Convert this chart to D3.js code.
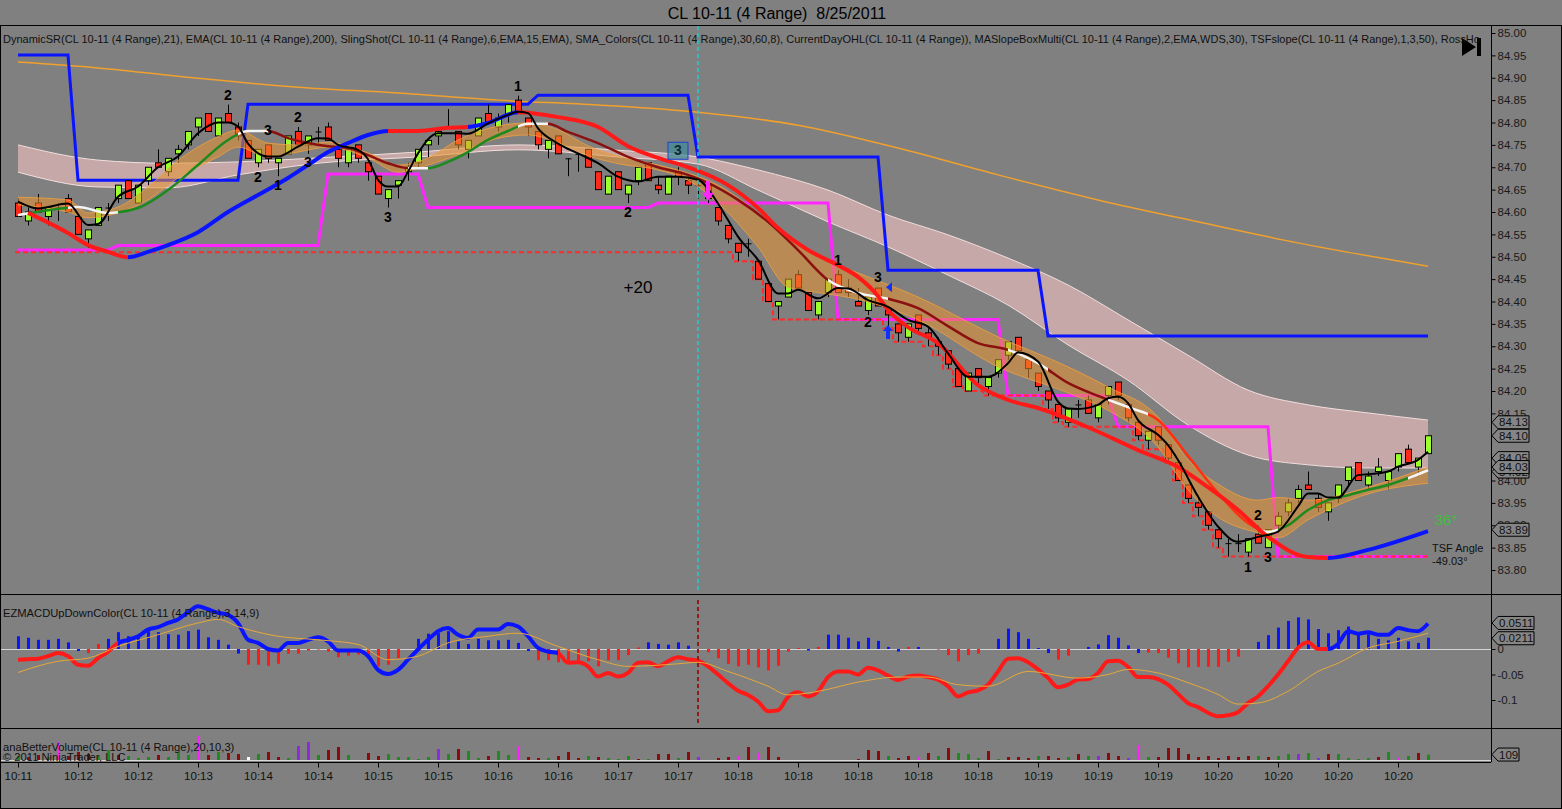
<!DOCTYPE html>
<html>
<head>
<meta charset="utf-8">
<script src="https://d3js.org/d3.v7.min.js"></script>
<style>
html, body { margin: 0; padding: 0; background: #808080; }
svg { display: block; font-family: "Liberation Sans", Arial, sans-serif; }
</style>
</head>
<body>
<div id="chart"></div>
<script>
// ---- data ----
var RANGE = 0.04;          // 4 tick range bars
var priorDayLow = 84.51;

var timeLabels = ["10:11","10:12","10:12","10:13","10:14","10:14","10:15","10:15","10:16","10:16","10:17","10:17",
                  "10:18","10:18","10:18","10:18","10:18","10:19","10:19","10:19","10:20","10:20","10:20","10:20"];
var barsPerLabel = 6;

var priceTicks = [83.80,83.85,83.90,83.95,84.00,84.05,84.10,84.15,84.20,84.25,84.30,84.35,84.40,84.45,84.50,
                  84.55,84.60,84.65,84.70,84.75,84.80,84.85,84.90,84.95,85.00];
var macdTicks = [0, -0.05, -0.1];
var priceMarkers = [84.13, 84.10, 84.02, 84.05, 84.03, 83.89];
var macdMarkers = [0.0211, 0.0511];
var volumeMarker = 109;

var opens = [84.62,84.58,84.62,84.59,84.61,84.63,84.59,84.54,84.57,84.61,
  84.63,84.67,84.62,84.67,84.71,84.69,84.73,84.75,84.79,84.82,
  84.77,84.82,84.79,84.76,84.71,84.75,84.71,84.73,84.78,84.75,
  84.78,84.79,84.74,84.71,84.75,84.71,84.68,84.63,84.66,84.69,
  84.71,84.75,84.77,84.79,84.78,84.74,84.77,84.82,84.79,84.82,
  84.85,84.81,84.78,84.74,84.77,84.72,84.73,84.74,84.69,84.64,
  84.69,84.64,84.67,84.71,84.66,84.64,84.69,84.67,84.66,84.66,
  84.61,84.57,84.53,84.53,84.49,84.44,84.39,84.41,84.46,84.42,
  84.37,84.42,84.46,84.43,84.40,84.38,84.43,84.38,84.35,84.32,
  84.37,84.33,84.31,84.29,84.25,84.20,84.25,84.21,84.24,84.28,
  84.32,84.27,84.24,84.20,84.17,84.13,84.17,84.18,84.14,84.19,
  84.22,84.17,84.13,84.09,84.12,84.08,84.04,83.99,83.95,83.93,
  83.89,83.86,83.86,83.84,83.88,83.85,83.90,83.93,83.96,83.99,
  83.96,83.93,83.96,84.00,84.04,83.99,84.02,84.00,84.03,84.07,
  84.03,84.06];
var closes = [84.59,84.60,84.60,84.61,84.61,84.60,84.55,84.56,84.61,84.61,
  84.66,84.63,84.66,84.70,84.70,84.72,84.74,84.78,84.81,84.78,
  84.81,84.80,84.77,84.72,84.74,84.72,84.72,84.77,84.75,84.77,
  84.78,84.76,84.72,84.74,84.72,84.69,84.64,84.65,84.67,84.70,
  84.74,84.76,84.78,84.79,84.75,84.76,84.81,84.80,84.81,84.84,
  84.82,84.79,84.75,84.76,84.73,84.72,84.73,84.70,84.65,84.68,
  84.65,84.66,84.70,84.67,84.65,84.68,84.68,84.66,84.66,84.63,
  84.58,84.54,84.51,84.53,84.45,84.40,84.40,84.45,84.43,84.38,
  84.40,84.45,84.42,84.42,84.39,84.41,84.39,84.37,84.33,84.35,
  84.34,84.32,84.30,84.26,84.21,84.24,84.23,84.23,84.27,84.31,
  84.29,84.25,84.21,84.18,84.14,84.16,84.17,84.15,84.17,84.21,
  84.19,84.14,84.10,84.11,84.09,84.05,84.00,83.96,83.94,83.90,
  83.87,83.86,83.86,83.87,83.86,83.89,83.92,83.95,83.98,83.98,
  83.94,83.95,83.99,84.03,84.00,84.01,84.03,84.02,84.06,84.04,
  84.05,84.10];
var highs = [84.63,84.61,84.64,84.61,84.62,84.64,84.59,84.56,84.61,84.62,
  84.66,84.67,84.66,84.70,84.74,84.72,84.75,84.78,84.81,84.82,
  84.81,84.84,84.80,84.76,84.74,84.75,84.72,84.77,84.79,84.77,
  84.79,84.80,84.74,84.74,84.75,84.71,84.68,84.65,84.67,84.71,
  84.74,84.76,84.79,84.83,84.78,84.76,84.81,84.84,84.82,84.84,
  84.86,84.81,84.78,84.76,84.77,84.72,84.73,84.74,84.69,84.68,
  84.69,84.66,84.70,84.71,84.68,84.68,84.70,84.68,84.67,84.66,
  84.61,84.57,84.53,84.54,84.49,84.44,84.40,84.45,84.47,84.42,
  84.40,84.45,84.47,84.45,84.43,84.41,84.43,84.38,84.35,84.35,
  84.37,84.34,84.32,84.29,84.25,84.24,84.25,84.23,84.27,84.31,
  84.32,84.27,84.24,84.20,84.17,84.16,84.18,84.19,84.17,84.21,
  84.22,84.17,84.13,84.11,84.12,84.08,84.04,83.99,83.96,83.93,
  83.89,83.87,83.88,83.87,83.90,83.89,83.93,83.96,83.99,84.02,
  83.97,83.95,83.99,84.03,84.04,84.02,84.05,84.02,84.06,84.08,
  84.05,84.10];

// indicator lines, [bar, price]
var ema200 = [[0,84.935],[8,84.922],[18,84.899],[28,84.879],[38,84.866],[48,84.850],[58,84.839],[68,84.823],
  [78,84.794],[88,84.743],[98,84.683],[108,84.627],[118,84.578],[128,84.531],[141,84.479]];

var fastEma = [[0,84.623],[2,84.608],[5,84.619],[7,84.571],[8,84.573],[10,84.634],[12,84.657],[14,84.700],
  [16,84.724],[18,84.776],[20,84.800],[21,84.800],[22,84.791],[23,84.753],[25,84.724],[26,84.724],[28,84.746],
  [30,84.765],[31,84.764],[32,84.750],[34,84.739],[35,84.718],[36,84.672],[37,84.657],[38,84.657],[39,84.690],
  [40,84.731],[42,84.776],[44,84.776],[45,84.775],[47,84.798],[49,84.817],[50,84.824],[51,84.821],[52,84.787],
  [54,84.753],[56,84.731],[58,84.709],[60,84.679],[62,84.668],[64,84.679],[66,84.679],[68,84.672],[70,84.619],
  [71,84.582],[72,84.545],[74,84.493],[76,84.418],[77,84.418],[78,84.426],[80,84.407],[82,84.430],[83,84.429],
  [85,84.403],[87,84.388],[89,84.359],[91,84.344],[93,84.284],[95,84.232],[97,84.232],[99,84.262],[100,84.286],
  [102,84.266],[104,84.176],[105,84.161],[106,84.160],[108,84.169],[109,84.184],[110,84.187],[111,84.173],
  [112,84.135],[114,84.102],[115,84.079],[116,84.046],[118,83.964],[120,83.897],[122,83.863],[124,83.874],
  [126,83.886],[128,83.942],[129,83.971],[130,83.971],[131,83.962],[132,83.962],[134,84.012],[136,84.016],
  [137,84.020],[138,84.031],[140,84.046],[141,84.064]];

var smaColors = [[0,84.593],[3,84.604],[6,84.611],[9,84.598],[12,84.609],[15,84.649],[18,84.705],[21,84.761],
  [23,84.781],[25,84.781],[27,84.765],[29,84.754],[31,84.747],[33,84.743],[35,84.727],[37,84.709],[39,84.698],
  [41,84.698],[43,84.712],[45,84.734],[47,84.761],[49,84.781],[51,84.797],[53,84.797],[55,84.779],[58,84.754],
  [61,84.723],[64,84.700],[67,84.683],[69,84.665],[72,84.627],[75,84.578],[78,84.515],[81,84.448],[84,84.419],
  [87,84.406],[90,84.385],[93,84.345],[96,84.307],[99,84.292],[102,84.262],[105,84.218],[108,84.189],
  [111,84.164],[114,84.135],[117,84.055],[120,83.972],[123,83.905],[125,83.885],[127,83.900],[129,83.934],
  [131,83.956],[133,83.967],[135,83.979],[137,83.990],[139,84.005],[141,84.023]];
var smaColorRuns = [[0,1,"flat"],[1,5,"up"],[5,10,"flat"],[10,22,"up"],[22,25,"flat"],[25,39,"down"],[39,41,"flat"],
  [41,50,"up"],[50,53,"flat"],[53,81,"down"],[81,87,"flat"],[87,99,"down"],[99,103,"flat"],[103,109,"down"],
  [109,113,"flat"],[113,124,"steep"],[124,126,"flat"],[126,139,"up"],[139,141,"flat"]];

var support = [[1,84.598],[5,84.553],[7,84.526],[9,84.511],[11,84.499],[13,84.511],[15,84.526],[18,84.555],
  [21,84.600],[24,84.638],[27,84.676],[29,84.705],[31,84.734],[33,84.754],[35,84.772],[37,84.781],[40,84.781],
  [43,84.788],[45,84.790],[47,84.799],[50,84.823],[54,84.812],[58,84.790],[61,84.747],[64,84.721],[67,84.700],
  [71,84.660],[74,84.609],[76,84.564],[79,84.515],[82,84.481],[84,84.455],[86,84.412],[87,84.381],[89,84.343],
  [92,84.307],[96,84.213],[99,84.180],[102,84.162],[107,84.119],[112,84.068],[116,84.030],[119,83.985],
  [122,83.934],[125,83.874],[129,83.829],[131,83.827],[135,83.845],[141,83.887]];
var supportRuns = [[0,11,"dn"],[11,37,"up"],[37,45,"dn"],[45,50,"up"],[50,131,"dn"],[131,141,"up"]];

// step lines as [first bar, level]
var dynamicSR = [[0,84.951],[6,84.671],[23,84.841],[52,84.861],[68,84.723],[87,84.470],[103,84.323]];
var ohlSteps = [[0,84.515],[10,84.525],[31,84.685],[41,84.610],[64,84.620],[82,84.360],[99,84.190],[110,84.120],[126,83.830]];

var pinkBars  = [0,8,15,22,30,40,50,60,68,74,81,87,93,99,105,111,117,123,129,135,141];
var pinkUpper = [84.750,84.716,84.709,84.712,84.721,84.734,84.750,84.738,84.723,84.694,84.649,84.593,84.549,
  84.497,84.437,84.359,84.280,84.202,84.169,84.151,84.135];
var pinkLower = [84.689,84.656,84.654,84.683,84.709,84.723,84.739,84.723,84.707,84.649,84.578,84.522,84.459,
  84.392,84.303,84.224,84.124,84.057,84.035,84.028,84.028];

var orangeBars  = [0,5,7,10,13,16,20,22,25,28,31,35,38,41,44,48,51,54,57,60,64,67,70,74,77,80,84,90,98,105,109,
  114,117,120,124,126,129,135,141];
var orangeUpper = [84.633,84.627,84.598,84.611,84.656,84.715,84.768,84.783,84.754,84.750,84.756,84.732,84.705,
  84.721,84.761,84.792,84.799,84.784,84.748,84.725,84.705,84.687,84.660,84.598,84.544,84.500,84.464,84.410,
  84.321,84.254,84.209,84.142,84.046,83.992,83.956,83.962,83.956,83.985,84.030];
var orangeLower = [84.616,84.600,84.587,84.598,84.627,84.676,84.723,84.745,84.723,84.734,84.745,84.721,84.689,
  84.705,84.728,84.765,84.772,84.755,84.726,84.708,84.694,84.671,84.620,84.522,84.432,84.420,84.405,84.359,
  84.254,84.196,84.157,84.075,83.979,83.918,83.883,83.872,83.912,83.970,83.994];

var swingLabels = [[21,84.861,"2"],[24,84.678,"2"],[25,84.783,"3"],[26,84.660,"1"],[28,84.812,"2"],[29,84.711,"3"],
  [37,84.589,"3"],[50,84.881,"1"],[61,84.600,"2"],[66,84.738,"3"],[82,84.492,"1"],[86,84.455,"3"],[85,84.354,"2"],
  [124,83.923,"2"],[123,83.807,"1"],[125,83.829,"3"]];
var boxedLabel = 66;
var markerBar = 68;

// MACD panel
var macd = [-0.021,-0.020,-0.019,-0.014,-0.008,-0.014,-0.031,-0.033,-0.018,-0.005,
  0.012,0.018,0.025,0.038,0.043,0.051,0.058,0.072,0.084,0.078,
  0.071,0.067,0.051,0.018,0.012,0.000,-0.003,0.012,0.012,0.018,
  0.023,0.015,-0.003,-0.003,-0.003,-0.014,-0.041,-0.049,-0.041,-0.021,
  -0.001,0.018,0.035,0.041,0.028,0.022,0.038,0.038,0.038,0.049,
  0.044,0.025,0.002,-0.005,-0.008,-0.027,-0.026,-0.034,-0.054,-0.047,
  -0.054,-0.047,-0.027,-0.026,-0.034,-0.024,-0.016,-0.020,-0.023,-0.034,
  -0.050,-0.067,-0.082,-0.090,-0.103,-0.122,-0.120,-0.094,-0.085,-0.093,
  -0.083,-0.055,-0.044,-0.044,-0.050,-0.037,-0.042,-0.052,-0.061,-0.054,
  -0.052,-0.055,-0.060,-0.073,-0.093,-0.085,-0.081,-0.070,-0.044,-0.019,
  -0.018,-0.026,-0.040,-0.057,-0.075,-0.070,-0.060,-0.059,-0.047,-0.024,
  -0.023,-0.035,-0.055,-0.055,-0.059,-0.070,-0.088,-0.106,-0.114,-0.125,
  -0.132,-0.130,-0.124,-0.106,-0.093,-0.073,-0.050,-0.024,0.002,0.013,
  0.000,0.000,0.010,0.035,0.030,0.033,0.028,0.028,0.041,0.037,
  0.035,0.050];
var macdRuns = [[0,10,"dn"],[10,54,"up"],[54,131,"dn"],[131,141,"up"]];
var macdHist = [0.025,0.022,0.018,0.018,0.020,0.013,-0.004,-0.008,0.010,0.020,
  0.033,0.025,0.028,0.035,0.033,0.029,0.028,0.035,0.038,0.023,
  0.018,0.0085,-0.009,-0.031,-0.031,-0.033,-0.029,-0.009,-0.009,-0.003,
  -0.001,-0.005,-0.016,-0.013,-0.011,-0.018,-0.034,-0.031,-0.018,0,
  0.020,0.030,0.031,0.035,0.015,0.010,0.020,0.017,0.017,0.018,
  0.012,-0.004,-0.022,-0.022,-0.026,-0.027,-0.024,-0.024,-0.034,-0.022,
  -0.022,-0.012,0.003,0.013,0.010,0.0085,0.013,0.0065,0,-0.0065,
  -0.018,-0.029,-0.034,-0.031,-0.036,-0.042,-0.033,-0.005,0.002,-0.003,
  0.004,0.028,0.028,0.022,0.015,0.022,0.016,0.004,-0.005,0.004,
  0.004,0,-0.001,-0.012,-0.024,-0.012,-0.009,0,0.020,0.040,
  0.033,0.020,0.002,-0.008,-0.021,-0.013,0,0.004,0.009,0.027,
  0.022,0.007,-0.008,-0.007,-0.008,-0.017,-0.028,-0.036,-0.035,-0.035,
  -0.035,-0.025,-0.015,0,0.014,0.027,0.042,0.055,0.062,0.058,
  0.039,0.031,0.037,0.044,0.033,0.029,0.020,0.017,0.022,0.015,
  0.012,0.022];
var macdSignal = [[0,-0.046],[4,-0.024],[7,-0.018],[10,0.005],[14,0.028],[18,0.051],[20,0.058],[22,0.044],
  [26,0.025],[30,0.018],[34,0.009],[37,-0.021],[40,-0.014],[43,0.012],[47,0.025],[50,0.031],[54,0.005],
  [58,-0.021],[61,-0.034],[66,-0.029],[68,-0.026],[71,-0.044],[75,-0.073],[77,-0.090],[80,-0.083],[84,-0.065],
  [88,-0.055],[91,-0.055],[94,-0.070],[97,-0.073],[101,-0.044],[106,-0.057],[109,-0.050],[111,-0.040],
  [114,-0.047],[117,-0.066],[120,-0.089],[122,-0.108],[124,-0.106],[127,-0.083],[130,-0.044],[132,-0.028],
  [135,0.002],[138,0.015],[141,0.031]];

// volume panel
var volumes = [80,60,100,60,360,80,160,120,80,200,100,80,40,60,100,60,160,100,480,100,
  160,140,120,60,120,160,60,40,280,360,100,200,260,100,0,140,80,120,60,60,
  20,60,220,120,220,180,40,80,180,100,280,60,40,40,80,160,40,80,60,40,
  20,80,20,20,120,120,40,160,60,0,40,60,80,260,140,260,60,0,0,0,
  0,0,0,0,20,200,180,80,40,80,60,140,80,240,140,120,40,180,20,60,
  60,40,80,80,40,60,120,80,80,140,80,40,300,60,60,240,240,120,60,80,
  40,80,60,80,80,60,80,120,120,140,40,120,120,40,20,40,60,160,40,80,
  140,109];
var volumeKinds = "grrgmrrrggrgggrgggmrgrrwgrrgppgrrg" + "grrgggggpgrggrggmrrgrrrgrgggrgrrgrprrrmrmrrrrrrrrprrrgrrmrgrgggrgrrrgrrgrgprrpmgrrrrrrrrrrgrggpgprggg" + "grgmgrgg";
</script>
<script>
var N = opens.length;
var W = 1562, H = 809;
var PX0 = 1, PX1 = 1491;   // plot area left/right

var kindColor = { g: "#1d8c1d", r: "#8b0b0b", m: "#ff22ff", p: "#8c2be2", w: "#ffffff" };
var runColor = { up: "#0a14ff", dn: "#ff1a1a" };
var smaColor = { up: "#1c8a1c", flat: "#f4f4f4", down: "#8b1010", steep: "#ff3010" };

var svg = d3.select("#chart").append("svg")
    .attr("width", W)
    .attr("height", H);
var defs = svg.append("defs");

svg.append("rect").attr("width", W).attr("height", H).attr("fill", "#808080");

var x = d3.scaleLinear().domain([0, N - 1]).range([18, 1428]);
var y = d3.scaleLinear().domain([83.80, 85.00]).range([570, 33]);
var ym = d3.scaleLinear().domain([0, 0.05]).range([649, 623.5]);
var yv = d3.scaleLinear().domain([0, 540]).range([760, 733]);

function clipRect(id, x0, x1, y0, y1) {
    defs.append("clipPath").attr("id", id).append("rect")
        .attr("x", x0).attr("y", y0)
        .attr("width", x1 - x0).attr("height", y1 - y0);
    return "url(#" + id + ")";
}
var priceClip = clipRect("priceClip", PX0, PX1, 26, 593);
var macdClip = clipRect("macdClip", PX0, PX1, 595, 728);
var legendClip = clipRect("legendClip", PX0, 1486, 26, 60);

function runX0(a) { return a === 0 ? PX0 : x(a); }
function runX1(b) { return b === N - 1 ? PX1 : x(b); }

function expandRuns(runs, n) {
    var out = [], k = 0;
    for (var i = 0; i < n; i++) {
        while (k + 1 < runs.length && runs[k + 1][0] <= i) k++;
        out.push(runs[k][1]);
    }
    return out;
}

// ---- title and frames ----
svg.append("text")
    .attr("x", 777).attr("y", 19)
    .attr("text-anchor", "middle")
    .attr("font-size", 16)
    .attr("fill", "#000")
    .style("white-space", "pre")
    .text("CL 10-11 (4 Range)  8/25/2011");

var frame = svg.append("g").attr("stroke", "#000").attr("stroke-width", 1).attr("fill", "none");
frame.append("rect").attr("x", 0.5).attr("y", 25.5).attr("width", 1561).attr("height", 783);
frame.append("line").attr("x1", 0).attr("x2", W).attr("y1", 594.5).attr("y2", 594.5);
frame.append("line").attr("x1", 0).attr("x2", W).attr("y1", 728.5).attr("y2", 728.5);
frame.append("line").attr("x1", 0).attr("x2", PX1).attr("y1", 762.5).attr("y2", 762.5);
frame.append("line").attr("x1", PX1 + 0.5).attr("x2", PX1 + 0.5).attr("y1", 25).attr("y2", 762);

// ---- price panel ----
var price = svg.append("g").attr("clip-path", priceClip);

var line = d3.line().x(function (d) { return x(d[0]); }).y(function (d) { return y(d[1]); })
    .curve(d3.curveMonotoneX);

// pink slope box
var pink = pinkBars.map(function (b, k) { return [b, pinkUpper[k], pinkLower[k]]; });
price.append("path")
    .attr("d", d3.area().x(function (d) { return x(d[0]); })
        .y0(function (d) { return y(d[2]); }).y1(function (d) { return y(d[1]); })
        .curve(d3.curveMonotoneX)(pink))
    .attr("fill", "#ffc8c8").attr("fill-opacity", 0.55);
[1, 2].forEach(function (k) {
    price.append("path")
        .attr("d", d3.line().x(function (d) { return x(d[0]); }).y(function (d) { return y(d[k]); })
            .curve(d3.curveMonotoneX)(pink))
        .attr("fill", "none").attr("stroke", "#f2dede").attr("stroke-width", 1);
});

// EMA 200
price.append("path").attr("d", line(ema200))
    .attr("fill", "none").attr("stroke", "#f0a02c").attr("stroke-width", 1.5);

// DynamicSR resistance steps
var srSeries = expandRuns(dynamicSR, N);
var stepLine = d3.line().x(function (d, i) { return x(i); }).y(function (d) { return y(d); });
price.append("path").attr("d", stepLine(srSeries))
    .attr("fill", "none").attr("stroke", "#0a14ff").attr("stroke-width", 3)
    .attr("stroke-linejoin", "miter");

// magenta level steps
price.append("path").attr("d", stepLine(expandRuns(ohlSteps, N)))
    .attr("fill", "none").attr("stroke", "#ff26ff").attr("stroke-width", 3);

// current day low, dashed
var dayLow = [], lo = priorDayLow;
highs.forEach(function (h) { lo = Math.min(lo, +(h - RANGE).toFixed(2)); dayLow.push(lo); });
price.append("path")
    .attr("d", d3.line().x(function (d, i) { return i === 0 ? 15 : x(i); }).y(function (d) { return y(d); })
        .curve(d3.curveStep)(dayLow))
    .attr("fill", "none").attr("stroke", "#ff2a2a").attr("stroke-width", 2)
    .attr("stroke-dasharray", "5,3");

// candles
var candles = d3.range(N).map(function (i) {
    return { i: i, o: opens[i], c: closes[i], h: highs[i], l: highs[i] - RANGE };
});
var cg = price.append("g");
cg.selectAll(".wick").data(candles).enter().append("line")
    .attr("x1", function (d) { return x(d.i) + 0.5; }).attr("x2", function (d) { return x(d.i) + 0.5; })
    .attr("y1", function (d) { return y(d.h); }).attr("y2", function (d) { return y(d.l); })
    .attr("stroke", "#000").attr("stroke-width", 1);
cg.selectAll(".body").data(candles).enter().append("rect")
    .attr("x", function (d) { return x(d.i) - 2.5; })
    .attr("width", 6)
    .attr("y", function (d) { return y(Math.max(d.o, d.c)); })
    .attr("height", function (d) { return Math.max(1, Math.abs(y(d.o) - y(d.c))); })
    .attr("fill", function (d) { return d.c > d.o ? "#9cff2e" : d.c < d.o ? "#ff2a1a" : "#000"; })
    .attr("stroke", "#000").attr("stroke-width", function (d) { return d.c === d.o ? 0 : 1; });

// orange slope band drawn over the candles
var orange = orangeBars.map(function (b, k) { return [b, orangeUpper[k], orangeLower[k]]; });
price.append("path")
    .attr("d", d3.area().x(function (d) { return x(d[0]); })
        .y0(function (d) { return y(d[2]); }).y1(function (d) { return y(d[1]); })
        .curve(d3.curveMonotoneX)(orange))
    .attr("fill", "#e8922e").attr("fill-opacity", 0.55);
[1, 2].forEach(function (k) {
    price.append("path")
        .attr("d", d3.line().x(function (d) { return x(d[0]); }).y(function (d) { return y(d[k]); })
            .curve(d3.curveMonotoneX)(orange))
        .attr("fill", "none").attr("stroke", "#f0a040").attr("stroke-width", 1).attr("stroke-opacity", 0.8);
});

// colour-coded SMA line
smaColorRuns.forEach(function (r, k) {
    price.append("path").attr("d", line(smaColors))
        .attr("clip-path", clipRect("sma" + k, runX0(r[0]), runX1(r[1]), 26, 593))
        .attr("fill", "none").attr("stroke", smaColor[r[2]]).attr("stroke-width", 2.5);
});

// thick support / resistance line
supportRuns.forEach(function (r, k) {
    price.append("path").attr("d", line(support))
        .attr("clip-path", clipRect("sup" + k, runX0(r[0]), runX1(r[1]), 26, 593))
        .attr("fill", "none").attr("stroke", runColor[r[2]]).attr("stroke-width", 4);
});

// fast EMA
price.append("path").attr("d", line(fastEma))
    .attr("fill", "none").attr("stroke", "#000").attr("stroke-width", 2);

// swing count labels
swingLabels.forEach(function (s) {
    if (s[0] === boxedLabel) {
        price.append("rect")
            .attr("x", x(s[0]) - 10).attr("y", y(s[1]) - 8)
            .attr("width", 20).attr("height", 17)
            .attr("fill", "#3d8c9a").attr("fill-opacity", 0.7)
            .attr("stroke", "#2040d0").attr("stroke-width", 1);
    }
    price.append("text")
        .attr("x", x(s[0])).attr("y", y(s[1]))
        .attr("text-anchor", "middle").attr("dominant-baseline", "central")
        .attr("font-size", 14).attr("font-weight", "bold")
        .attr("fill", s[0] === boxedLabel ? "#0c2a30" : "#000")
        .text(s[2]);
});

// signal arrows near bar 87 and bar 69
var ax = x(87), ay = y(84.332);
price.append("path")
    .attr("d", "M" + ax + "," + (ay - 7) + "l-5,6h3v8h4v-8h3z")
    .attr("fill", "#1030ff");
price.append("path")
    .attr("d", "M" + (x(87) - 2) + "," + y(84.432) + "l6,-5v10z")
    .attr("fill", "#1030ff");
var mx = x(69), my = y(84.625);
price.append("path")
    .attr("d", "M" + mx + "," + my + "l-6,-8h4v-12h4v12h4z")
    .attr("fill", "#ff26ff");

price.append("text")
    .attr("x", x(62)).attr("y", y(84.432))
    .attr("text-anchor", "middle").attr("dominant-baseline", "central")
    .attr("font-size", 17).attr("fill", "#000")
    .text("+20");

// TSF angle readout
price.append("text").attr("x", x(N - 1) + 18).attr("y", y(83.912))
    .attr("text-anchor", "middle").attr("dominant-baseline", "central")
    .attr("font-size", 15).attr("fill", "#3cc03c").text("36°");
price.append("text").attr("x", x(N - 1) + 4).attr("y", y(83.849))
    .attr("dominant-baseline", "central").attr("font-size", 11).attr("fill", "#111").text("TSF Angle");
price.append("text").attr("x", x(N - 1) + 4).attr("y", y(83.821))
    .attr("dominant-baseline", "central").attr("font-size", 11).attr("fill", "#111").text("-49.03°");

// legend text
svg.append("g").attr("clip-path", legendClip).append("text")
    .attr("x", 3).attr("y", 43)
    .attr("font-size", 11).attr("fill", "#111")
    .text("DynamicSR(CL 10-11 (4 Range),21), EMA(CL 10-11 (4 Range),200), SlingShot(CL 10-11 (4 Range),6,EMA,15,EMA), " +
          "SMA_Colors(CL 10-11 (4 Range),30,60,8), CurrentDayOHL(CL 10-11 (4 Range)), " +
          "MASlopeBoxMulti(CL 10-11 (4 Range),2,EMA,WDS,30), TSFslope(CL 10-11 (4 Range),1,3,50), RossHo");

// go-to-end button
price.append("path").attr("d", "M1462,38L1476,47L1462,56Z M1477,38h4v18h-4Z").attr("fill", "#000");

// bar marker
svg.append("line")
    .attr("x1", x(markerBar)).attr("x2", x(markerBar)).attr("y1", 26).attr("y2", 593)
    .attr("stroke", "#22cccc").attr("stroke-width", 1.5).attr("stroke-dasharray", "4,3");

// price axis
var pAxis = svg.append("g").attr("transform", "translate(" + (PX1 + 0.5) + ",0)")
    .call(d3.axisRight(y).tickValues(priceTicks).tickSize(4).tickPadding(2).tickFormat(d3.format(".2f")));
pAxis.select(".domain").remove();
pAxis.selectAll("line").attr("stroke", "#000");
pAxis.selectAll("text").attr("font-size", 11.5).attr("fill", "#1a1a1a").attr("font-family", "Liberation Sans, Arial, sans-serif");

function marker(g, yy, label, w) {
    g.append("path")
        .attr("d", "M" + (PX1 + 1) + "," + yy + "l6,-6.5h" + w + "v13h-" + w + "z")
        .attr("fill", "#858585").attr("stroke", "#000").attr("stroke-width", 1);
    g.append("text").attr("x", PX1 + 8).attr("y", yy)
        .attr("dominant-baseline", "central").attr("font-size", 11.5).attr("fill", "#111")
        .text(label);
}
var markers = svg.append("g");
priceMarkers.forEach(function (v) { marker(markers, y(v), d3.format(".2f")(v), 31); });

// ---- MACD panel ----
var mg = svg.append("g").attr("clip-path", macdClip);
mg.append("line").attr("x1", PX0).attr("x2", PX1).attr("y1", ym(0) + 0.5).attr("y2", ym(0) + 0.5)
    .attr("stroke", "#d4d4d4").attr("stroke-width", 1);

mg.selectAll(".hist").data(macdHist).enter().append("rect")
    .attr("x", function (d, i) { return x(i) - 1; })
    .attr("width", 3)
    .attr("y", function (d) { return Math.min(ym(d), ym(0)); })
    .attr("height", function (d) { return Math.abs(ym(d) - ym(0)); })
    .attr("fill", function (d, i) {
        var ref = i > 0 && macdHist[i - 1] !== 0 ? macdHist[i - 1] : d;
        return ref >= 0 ? "#0a14ff" : "#ff1a1a";
    });

var mline = d3.line().x(function (d, i) { return x(i); }).y(function (d) { return ym(d); }).curve(d3.curveMonotoneX);
macdRuns.forEach(function (r, k) {
    mg.append("path").attr("d", mline(macd))
        .attr("clip-path", clipRect("macd" + k, runX0(r[0]), runX1(r[1]), 595, 728))
        .attr("fill", "none").attr("stroke", runColor[r[2]]).attr("stroke-width", 4)
        .attr("stroke-linejoin", "round");
});
mg.append("path")
    .attr("d", d3.line().x(function (d) { return x(d[0]); }).y(function (d) { return ym(d[1]); })
        .curve(d3.curveMonotoneX)(macdSignal))
    .attr("fill", "none").attr("stroke", "#e6a83a").attr("stroke-width", 1);

svg.append("line")
    .attr("x1", x(markerBar)).attr("x2", x(markerBar)).attr("y1", 600).attr("y2", 723)
    .attr("stroke", "#8e1c1c").attr("stroke-width", 2).attr("stroke-dasharray", "4,3");

svg.append("text").attr("x", 3).attr("y", 613)
    .attr("dominant-baseline", "central").attr("font-size", 11.2).attr("fill", "#111")
    .text("EZMACDUpDownColor(CL 10-11 (4 Range),3,14,9)");

var mAxis = svg.append("g").attr("transform", "translate(" + (PX1 + 0.5) + ",0)")
    .call(d3.axisRight(ym).tickValues(macdTicks).tickSize(4).tickPadding(2).tickFormat(function (d) { return String(d); }));
mAxis.select(".domain").remove();
mAxis.selectAll("line").attr("stroke", "#000");
mAxis.selectAll("text").attr("font-size", 11.5).attr("fill", "#1a1a1a").attr("font-family", "Liberation Sans, Arial, sans-serif");
macdMarkers.forEach(function (v) { marker(markers, ym(v), String(v), 36); });

// ---- volume panel ----
var vg = svg.append("g");
vg.append("line").attr("x1", PX0).attr("x2", PX1).attr("y1", 760.5).attr("y2", 760.5)
    .attr("stroke", "#d8d8d8").attr("stroke-width", 1);
vg.selectAll(".vol").data(volumes).enter().append("rect")
    .attr("x", function (d, i) { return x(i) - 1; })
    .attr("width", 3)
    .attr("y", function (d) { return yv(d); })
    .attr("height", function (d) { return yv(0) - yv(d); })
    .attr("fill", function (d, i) { return kindColor[volumeKinds[i]] || kindColor.g; });
svg.append("text").attr("x", 3).attr("y", 747)
    .attr("dominant-baseline", "central").attr("font-size", 11.2).attr("fill", "#111")
    .text("anaBetterVolume(CL 10-11 (4 Range),20,10,3)");
svg.append("text").attr("x", 3).attr("y", 757)
    .attr("dominant-baseline", "central").attr("font-size", 11.2).attr("fill", "#111")
    .text("© 2011 NinjaTrader, LLC");
marker(svg, yv(volumeMarker), String(volumeMarker), 21);

// ---- time axis ----
var tAxis = svg.append("g").attr("transform", "translate(0,762.5)")
    .call(d3.axisBottom(x)
        .tickValues(timeLabels.map(function (t, k) { return k * barsPerLabel; }))
        .tickSize(5).tickPadding(4)
        .tickFormat(function (d) { return timeLabels[d / barsPerLabel]; }));
tAxis.select(".domain").remove();
tAxis.selectAll("line").attr("stroke", "#000");
tAxis.selectAll("text").attr("font-size", 11.5).attr("fill", "#111").attr("font-family", "Liberation Sans, Arial, sans-serif");
</script>
</body>
</html>
